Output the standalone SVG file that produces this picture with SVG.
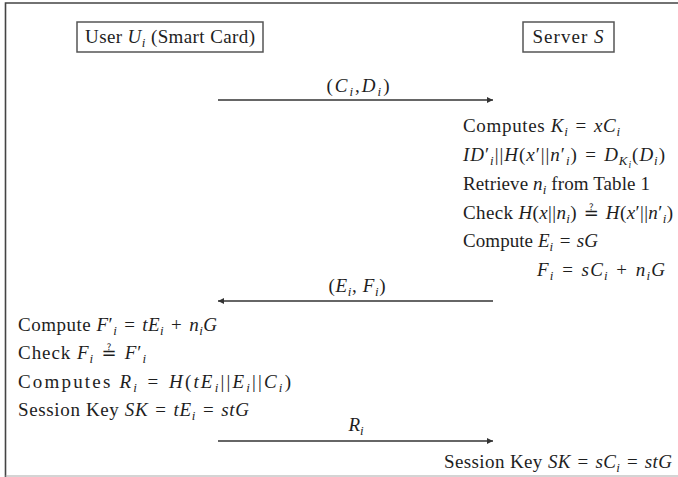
<svg xmlns="http://www.w3.org/2000/svg" width="678" height="477" viewBox="0 0 678 477">
  <style>
    .t { font-family: "Liberation Serif", "Times New Roman", serif; font-size: 19px; fill: #1e1e1e; }
    .v { font-style: italic; }
    .s { font-size: 13px; font-style: italic; }
    .ss { font-size: 9.5px; font-style: italic; }
    .q { font-family: "DejaVu Sans", sans-serif; font-size: 18px; }
    .box { fill: #fff; stroke: #555; stroke-width: 1.5; }
    .msg { stroke: #333; stroke-width: 1.3; fill: none; }
    .frame { stroke: #444; stroke-width: 1.6; fill: none; }
  </style>
  <defs>
    <marker id="head" viewBox="0 0 10 10" refX="10" refY="5" markerWidth="8" markerHeight="6" markerUnits="userSpaceOnUse" orient="auto">
      <path d="M0,0 L10,5 L0,10 z" fill="#333"/>
    </marker>
  </defs>

  <rect width="678" height="477" fill="#fff"/>
  <!-- outer frame -->
  <path class="frame" d="M678,3 H5.5 V477"/>
  <path d="M5.5,476 H678" stroke="#aaa" stroke-width="1.2" fill="none"/>

  <!-- participants -->
  <g id="user">
    <rect class="box" x="77" y="22" width="186" height="30"/>
    <text class="t" x="170" y="43" text-anchor="middle" textLength="170" lengthAdjust="spacing">User <tspan class="v">U</tspan><tspan class="s" dy="4">i</tspan><tspan dy="-4"> (Smart Card)</tspan></text>
  </g>
  <g id="server">
    <rect class="box" x="523" y="22" width="91" height="30"/>
    <text class="t" x="568" y="43" text-anchor="middle" textLength="71" lengthAdjust="spacing">Server <tspan class="v">S</tspan></text>
  </g>

  <!-- message arrows -->
  <g id="connectors">
    <line class="msg" x1="218" y1="100" x2="493" y2="100" marker-end="url(#head)"/>
    <line class="msg" x1="493" y1="301" x2="218" y2="301" marker-end="url(#head)"/>
    <line class="msg" x1="218" y1="441" x2="493" y2="441" marker-end="url(#head)"/>
  </g>

  <!-- message labels -->
  <g id="labels">
    <text class="t" x="358" y="92" text-anchor="middle" textLength="63" lengthAdjust="spacing">(<tspan class="v">C</tspan><tspan class="s" dy="4">i</tspan><tspan dy="-4">,</tspan><tspan class="v">D</tspan><tspan class="s" dy="4">i</tspan><tspan dy="-4">)</tspan></text>
    <text class="t" x="357" y="292" text-anchor="middle" textLength="57" lengthAdjust="spacing">(<tspan class="v">E</tspan><tspan class="s" dy="4">i</tspan><tspan dy="-4">, </tspan><tspan class="v">F</tspan><tspan class="s" dy="4">i</tspan><tspan dy="-4">)</tspan></text>
    <text class="t" x="356" y="431" text-anchor="middle"><tspan class="v">R</tspan><tspan class="s" dy="4">i</tspan></text>
  </g>

  <!-- server side computations -->
  <g id="server-steps">
    <text class="t" x="463" y="132" textLength="157" lengthAdjust="spacing">Computes <tspan class="v">K</tspan><tspan class="s" dy="4">i</tspan><tspan dy="-4">&#8196;=&#8196;</tspan><tspan class="v">xC</tspan><tspan class="s" dy="4">i</tspan></text>
    <text class="t" x="463" y="161" textLength="202" lengthAdjust="spacing"><tspan class="v">ID</tspan><tspan>′</tspan><tspan class="s" dy="4">i</tspan><tspan dy="-4">||</tspan><tspan class="v">H</tspan>(<tspan class="v">x</tspan>′||<tspan class="v">n</tspan>′<tspan class="s" dy="4">i</tspan><tspan dy="-4">)&#8196;=&#8196;</tspan><tspan class="v">D</tspan><tspan class="s" dy="4">K</tspan><tspan class="ss" dy="3">i</tspan><tspan dy="-7">(</tspan><tspan class="v">D</tspan><tspan class="s" dy="4">i</tspan><tspan dy="-4">)</tspan></text>
    <text class="t" x="463" y="190" textLength="187" lengthAdjust="spacing">Retrieve <tspan class="v">n</tspan><tspan class="s" dy="4">i</tspan><tspan dy="-4"> from Table 1</tspan></text>
    <text class="t" x="463" y="219" textLength="210" lengthAdjust="spacing">Check <tspan class="v">H</tspan>(<tspan class="v">x</tspan>||<tspan class="v">n</tspan><tspan class="s" dy="4">i</tspan><tspan dy="-4">)&#8196;</tspan><tspan class="q">≟</tspan>&#8196;<tspan class="v">H</tspan>(<tspan class="v">x</tspan>′||<tspan class="v">n</tspan>′<tspan class="s" dy="4">i</tspan><tspan dy="-4">)</tspan></text>
    <text class="t" x="463" y="247" textLength="135" lengthAdjust="spacing">Compute <tspan class="v">E</tspan><tspan class="s" dy="4">i</tspan><tspan dy="-4">&#8196;=&#8196;</tspan><tspan class="v">sG</tspan></text>
    <text class="t" x="537" y="276" textLength="128" lengthAdjust="spacing"><tspan class="v">F</tspan><tspan class="s" dy="4">i</tspan><tspan dy="-4">&#8196;=&#8196;</tspan><tspan class="v">sC</tspan><tspan class="s" dy="4">i</tspan><tspan dy="-4">&#8196;+&#8196;</tspan><tspan class="v">n</tspan><tspan class="s" dy="4">i</tspan><tspan class="v" dy="-4">G</tspan></text>
  </g>

  <!-- user side computations -->
  <g id="user-steps">
    <text class="t" x="18" y="331" textLength="199" lengthAdjust="spacing">Compute <tspan class="v">F</tspan>′<tspan class="s" dy="4">i</tspan><tspan dy="-4">&#8196;=&#8196;</tspan><tspan class="v">tE</tspan><tspan class="s" dy="4">i</tspan><tspan dy="-4">&#8196;+&#8196;</tspan><tspan class="v">n</tspan><tspan class="s" dy="4">i</tspan><tspan class="v" dy="-4">G</tspan></text>
    <text class="t" x="18" y="359" textLength="128" lengthAdjust="spacing">Check <tspan class="v">F</tspan><tspan class="s" dy="4">i</tspan><tspan dy="-4">&#8196;</tspan><tspan class="q">≟</tspan>&#8196;<tspan class="v">F</tspan>′<tspan class="s" dy="4">i</tspan></text>
    <text class="t" x="18" y="388" textLength="273" lengthAdjust="spacing">Computes <tspan class="v">R</tspan><tspan class="s" dy="4">i</tspan><tspan dy="-4">&#8196;=&#8196;</tspan><tspan class="v">H</tspan>(<tspan class="v">tE</tspan><tspan class="s" dy="4">i</tspan><tspan dy="-4">||</tspan><tspan class="v">E</tspan><tspan class="s" dy="4">i</tspan><tspan dy="-4">||</tspan><tspan class="v">C</tspan><tspan class="s" dy="4">i</tspan><tspan dy="-4">)</tspan></text>
    <text class="t" x="18" y="416" textLength="231" lengthAdjust="spacing">Session Key <tspan class="v">SK</tspan>&#8196;=&#8196;<tspan class="v">tE</tspan><tspan class="s" dy="4">i</tspan><tspan dy="-4">&#8196;=&#8196;</tspan><tspan class="v">stG</tspan></text>
  </g>

  <g id="server-key">
    <text class="t" x="444" y="468" textLength="228" lengthAdjust="spacing">Session Key <tspan class="v">SK</tspan>&#8196;=&#8196;<tspan class="v">sC</tspan><tspan class="s" dy="4">i</tspan><tspan dy="-4">&#8196;=&#8196;</tspan><tspan class="v">stG</tspan></text>
  </g>
</svg>
